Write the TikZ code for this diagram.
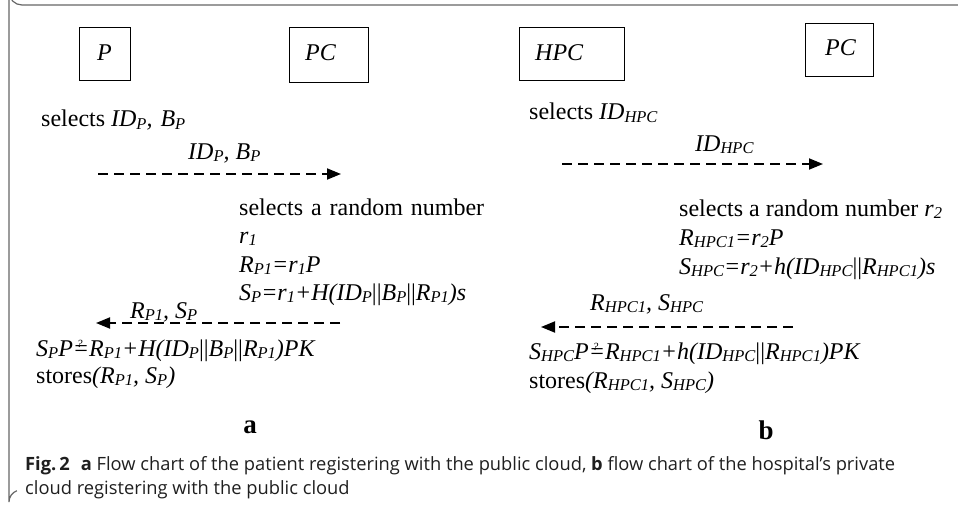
\documentclass[tikz,border=0pt]{standalone}
\usepackage{fontspec}
\setmainfont{Liberation Serif}
\newfontfamily\capfont{Open Sans}
\usetikzlibrary{arrows.meta}
\newcommand{\sbs}[1]{\raisebox{-2.5pt}{\fontsize{16.5}{16}\selectfont\itshape #1}}
\newcommand{\qeq}{\makebox[0pt][l]{\hspace{0.17em}\raisebox{8.5pt}{\fontsize{11}{11}\selectfont\itshape ?}}=}
\newcommand{\vb}{\textup{||}}
\begin{document}
\begin{tikzpicture}[x=1pt,y=-1pt,
  txt/.style={anchor=base west,inner sep=0pt,font=\fontsize{24}{26}\selectfont},
  actor/.style={draw,line width=1pt,anchor=north west,inner sep=0pt},
  msg/.style={dashed,dash pattern=on 10pt off 6pt,line width=1.8pt,-{Triangle[length=14pt,width=11pt]}},
  captxt/.style={anchor=base west,inner sep=0pt,font=\capfont\fontsize{18.3}{20}\selectfont,text=black!88},
  lbl/.style={anchor=base,inner sep=0pt,font=\bfseries\fontsize{27}{29}\selectfont}]
\useasboundingbox (0,0) rectangle (958,516);
% frame
\draw[black!60,line width=1.2pt] (958,5) -- (22,5) arc[start angle=90,end angle=180,radius=13] -- (9,502) arc[start angle=180,end angle=250,radius=12];
% actor boxes
\node[actor,minimum width=51pt,minimum height=53pt] (bP) at (79,27) {};
\node[actor,minimum width=79pt,minimum height=55pt] (bPC) at (289,27) {};
\node[actor,minimum width=105pt,minimum height=53pt] (bHPC) at (519,27) {};
\node[actor,minimum width=68pt,minimum height=53pt] (bPC2) at (805,23) {};
\node[txt] (tP) at (97,61) {\textit{P}};
\node[txt] (tPC) at (305,61) {\textit{PC}};
\node[txt] (tHPC) at (535,61) {\textit{HPC}};
\node[txt] (tPC2) at (825,56) {\textit{PC}};
% panel a
\node[txt] (a1) at (41,127) {selects \textit{ID\sbs{P},\hspace{2pt} B\sbs{P}}};
\node[txt] (a2) at (188,159) {\textit{ID\sbs{P}, B\sbs{P}}};
\coordinate (a2s) at (98,174); \coordinate (a2e) at (341,174);
\draw[msg] (a2s) -- (a2e);
\node[txt] (a3) at (239,215) {\makebox[245pt][s]{selects a random number}};
\node[txt] (a4) at (239,243) {\textit{r\sbs{1}}};
\node[txt] (a5) at (239,272) {\textit{R\sbs{P1}=r\sbs{1}P}};
\node[txt] (a6) at (239,300) {\textit{S\sbs{P}=r\sbs{1}+H(ID\sbs{P}\vb B\sbs{P}\vb R\sbs{P1})s}};
\node[txt] (a7) at (130,318) {\textit{R\sbs{P1}, S\sbs{P}}};
\coordinate (a7s) at (340,323); \coordinate (a7e) at (96,323);
\draw[msg] (a7s) -- (a7e);
\node[txt] (a8) at (36,356) {\textit{S\sbs{P}P\qeq R\sbs{P1}+H(ID\sbs{P}\vb B\sbs{P}\vb R\sbs{P1})PK}};
\node[txt] (a9) at (36,383) {stores\textit{(R\sbs{P1}, S\sbs{P})}};
\node[lbl] (la) at (250,433) {a};
% panel b
\node[txt] (b1) at (529,120) {selects \textit{ID\sbs{HPC}}};
\node[txt] (b2) at (695,151) {\textit{ID\sbs{HPC}}};
\coordinate (b2s) at (562,164); \coordinate (b2e) at (823,164);
\draw[msg] (b2s) -- (b2e);
\node[txt] (b3) at (679,216) {selects a random number \textit{r\sbs{2}}};
\node[txt] (b4) at (679,245) {\textit{R\sbs{HPC1}=r\sbs{2}P}};
\node[txt] (b5) at (679,274) {\textit{S\sbs{HPC}=r\sbs{2}+h(ID\sbs{HPC}\vb R\sbs{HPC1})s}};
\node[txt] (b6) at (590,310) {\textit{R\sbs{HPC1}, S\sbs{HPC}}};
\coordinate (b6s) at (793,327); \coordinate (b6e) at (541,327);
\draw[msg] (b6s) -- (b6e);
\node[txt] (b7) at (529,359) {\textit{S\sbs{HPC}P\qeq R\sbs{HPC1}+h(ID\sbs{HPC}\vb R\sbs{HPC1})PK}};
\node[txt] (b8) at (529,388) {stores\textit{(R\sbs{HPC1}, S\sbs{HPC})}};
\node[lbl] (lb) at (766,439) {b};
% caption
\node[captxt] (c1) at (25,470) {\textbf{Fig.\,2}\hspace{0.6em}\textbf{a} Flow chart of the patient registering with the public cloud, \textbf{b} flow chart of the hospital’s private};
\node[captxt] (c2) at (25,494) {cloud registering with the public cloud};
\end{tikzpicture}
\end{document}
